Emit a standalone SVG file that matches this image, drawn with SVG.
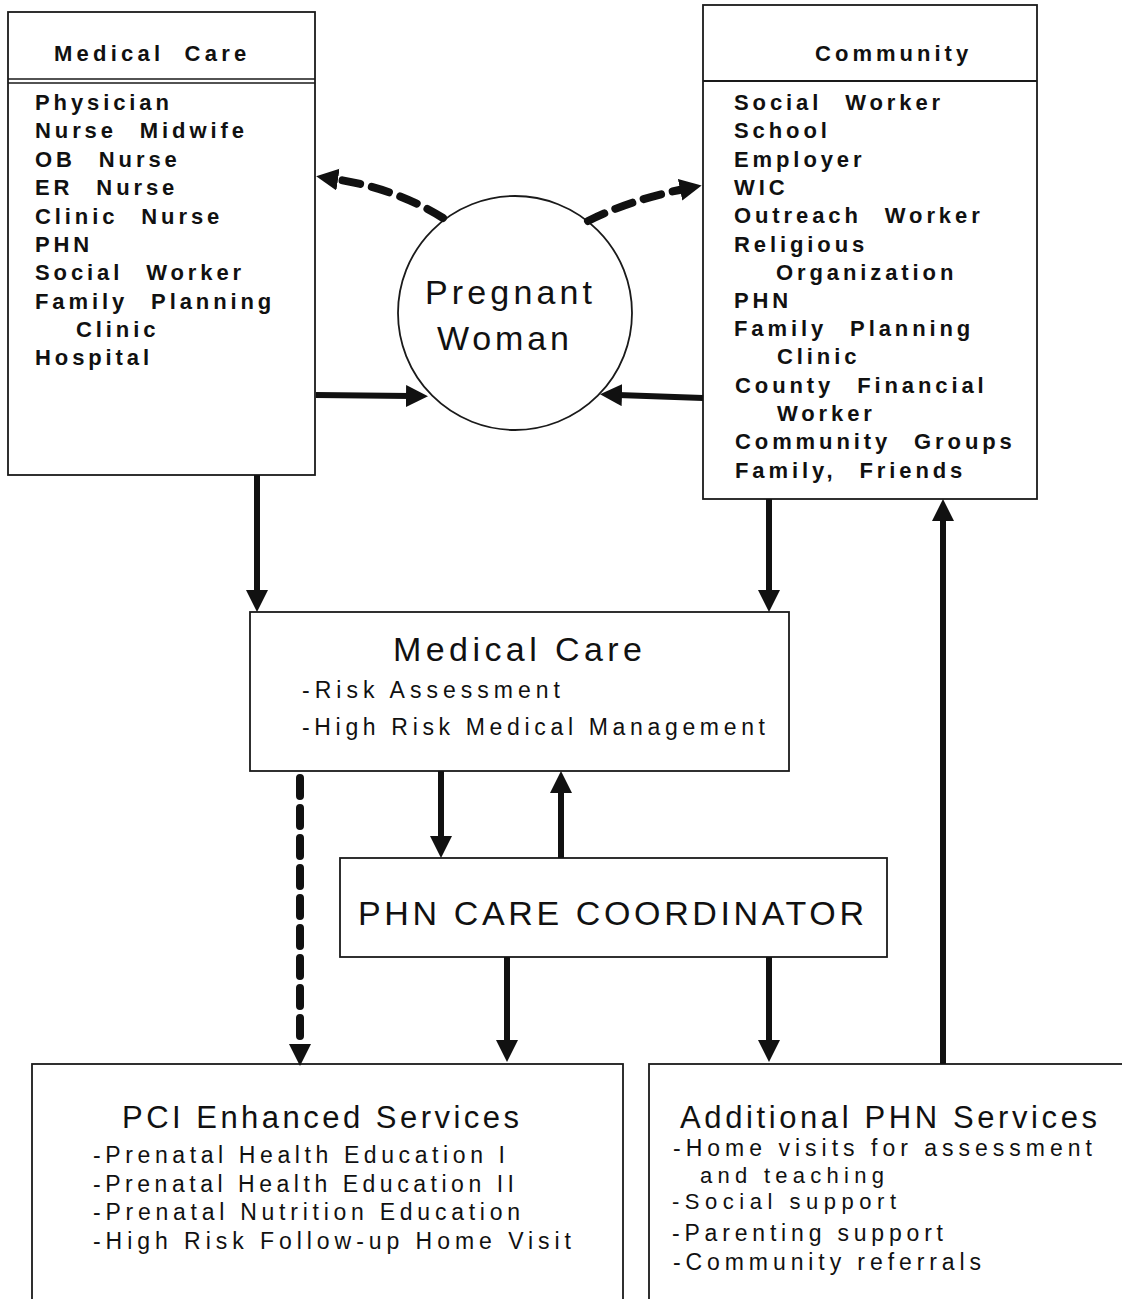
<svg xmlns="http://www.w3.org/2000/svg" width="1122" height="1299" viewBox="0 0 1122 1299">
<style>
.box{fill:#fff;stroke:#1a1a1a;stroke-width:1.8}
.hd{font-family:"Liberation Sans",Arial,sans-serif;font-weight:bold;font-size:22px;fill:#111;letter-spacing:3.8px;word-spacing:10px}
.it{font-family:"Liberation Sans",Arial,sans-serif;font-weight:bold;font-size:22px;fill:#111;letter-spacing:3.9px;word-spacing:13px}
.lt{font-family:"Liberation Sans",Arial,sans-serif;font-size:23px;fill:#111}
.big{font-family:"Liberation Sans",Arial,sans-serif;font-size:34px;fill:#111}
.con{fill:none;stroke:#111;stroke-width:6}
.dash{fill:none;stroke:#111;stroke-width:8;stroke-dasharray:18 12;stroke-linecap:round}
</style>
<defs>
<marker id="ah" markerUnits="userSpaceOnUse" markerWidth="24" markerHeight="24" refX="4" refY="11" orient="auto">
<path d="M0,0 L22,11 L0,22 z" fill="#111"/>
</marker>
</defs>
<rect width="1122" height="1299" fill="#fff"/>

<g id="medical-care-left">
<rect class="box" x="8" y="12" width="307" height="463"/>
<line x1="8" y1="79" x2="315" y2="79" stroke="#1a1a1a" stroke-width="1.6"/>
<line x1="8" y1="83" x2="315" y2="83" stroke="#1a1a1a" stroke-width="1.6"/>
<text class="hd" x="54" y="61" textLength="196">Medical Care</text>
<text class="it" x="35" y="110">Physician</text>
<text class="it" x="35" y="138">Nurse Midwife</text>
<text class="it" x="35" y="167">OB Nurse</text>
<text class="it" x="35" y="195">ER Nurse</text>
<text class="it" x="35" y="224">Clinic Nurse</text>
<text class="it" x="35" y="252">PHN</text>
<text class="it" x="35" y="280">Social Worker</text>
<text class="it" x="35" y="309">Family Planning</text>
<text class="it" x="76" y="337">Clinic</text>
<text class="it" x="35" y="365">Hospital</text>
</g>

<g id="community">
<rect class="box" x="703" y="5" width="334" height="494"/>
<line x1="703" y1="81" x2="1037" y2="81" stroke="#1a1a1a" stroke-width="1.8"/>
<text class="hd" x="815" y="61" textLength="157">Community</text>
<text class="it" x="734" y="110">Social Worker</text>
<text class="it" x="734" y="138">School</text>
<text class="it" x="734" y="167">Employer</text>
<text class="it" x="734" y="195">WIC</text>
<text class="it" x="734" y="223">Outreach Worker</text>
<text class="it" x="734" y="252">Religious</text>
<text class="it" x="776" y="280">Organization</text>
<text class="it" x="734" y="308">PHN</text>
<text class="it" x="734" y="336">Family Planning</text>
<text class="it" x="777" y="364">Clinic</text>
<text class="it" x="735" y="393">County Financial</text>
<text class="it" x="777" y="421">Worker</text>
<text class="it" x="735" y="449">Community Groups</text>
<text class="it" x="735" y="478">Family, Friends</text>
</g>

<g id="pregnant-woman">
<circle cx="515" cy="313" r="117" fill="#fff" stroke="#1a1a1a" stroke-width="1.8"/>
<text class="big" x="425" y="304" textLength="167">Pregnant</text>
<text class="big" x="437" y="350" textLength="132">Woman</text>
</g>

<g id="medical-care-mid">
<rect class="box" x="250" y="612" width="539" height="159"/>
<text class="big" x="393" y="661" textLength="249">Medical Care</text>
<text class="lt" x="302" y="698" textLength="258">-Risk Assessment</text>
<text class="lt" x="302" y="735" textLength="463">-High Risk Medical Management</text>
</g>

<g id="phn-coordinator">
<rect class="box" x="340" y="858" width="547" height="99"/>
<text class="big" x="358" y="925" textLength="506">PHN CARE COORDINATOR</text>
</g>

<g id="pci-services">
<rect class="box" x="32" y="1064" width="591" height="250"/>
<text class="big" x="122" y="1128" style="font-size:31px" textLength="397">PCI Enhanced Services</text>
<text class="lt" x="93" y="1163" textLength="412">-Prenatal Health Education I</text>
<text class="lt" x="93" y="1192" textLength="421">-Prenatal Health Education II</text>
<text class="lt" x="93" y="1220" textLength="427">-Prenatal Nutrition Education</text>
<text class="lt" x="93" y="1249" textLength="478">-High Risk Follow-up Home Visit</text>
</g>

<g id="additional-phn">
<rect class="box" x="649" y="1064" width="500" height="250"/>
<text class="big" x="680" y="1128" style="font-size:31px" textLength="417">Additional PHN Services</text>
<text class="lt" x="673" y="1156" textLength="419">-Home visits for assessment</text>
<text class="lt" x="700" y="1183" style="font-size:22px" textLength="184">and teaching</text>
<text class="lt" x="672" y="1209" style="font-size:22px" textLength="224">-Social support</text>
<text class="lt" x="672" y="1241" textLength="271">-Parenting support</text>
<text class="lt" x="673" y="1270" textLength="308">-Community referrals</text>
</g>

<g id="connectors">
<path class="dash" d="M443,218 Q395,188 334,179" marker-end="url(#ah)"/>
<path class="dash" d="M588,221 Q630,200 684,189" marker-end="url(#ah)"/>
<line class="con" x1="316" y1="395" x2="410" y2="396" marker-end="url(#ah)"/>
<line class="con" x1="703" y1="398" x2="618" y2="395" marker-end="url(#ah)"/>
<line class="con" x1="257" y1="475" x2="257" y2="594" marker-end="url(#ah)"/>
<line class="con" x1="769" y1="499" x2="769" y2="594" marker-end="url(#ah)"/>
<line class="con" x1="441" y1="771" x2="441" y2="840" marker-end="url(#ah)"/>
<line class="con" x1="561" y1="858" x2="561" y2="789" marker-end="url(#ah)"/>
<path class="dash" d="M300,778 L300,1048" marker-end="url(#ah)"/>
<line class="con" x1="507" y1="957" x2="507" y2="1044" marker-end="url(#ah)"/>
<line class="con" x1="769" y1="957" x2="769" y2="1044" marker-end="url(#ah)"/>
<line class="con" x1="943" y1="1064" x2="943" y2="517" marker-end="url(#ah)"/>
</g>
</svg>
